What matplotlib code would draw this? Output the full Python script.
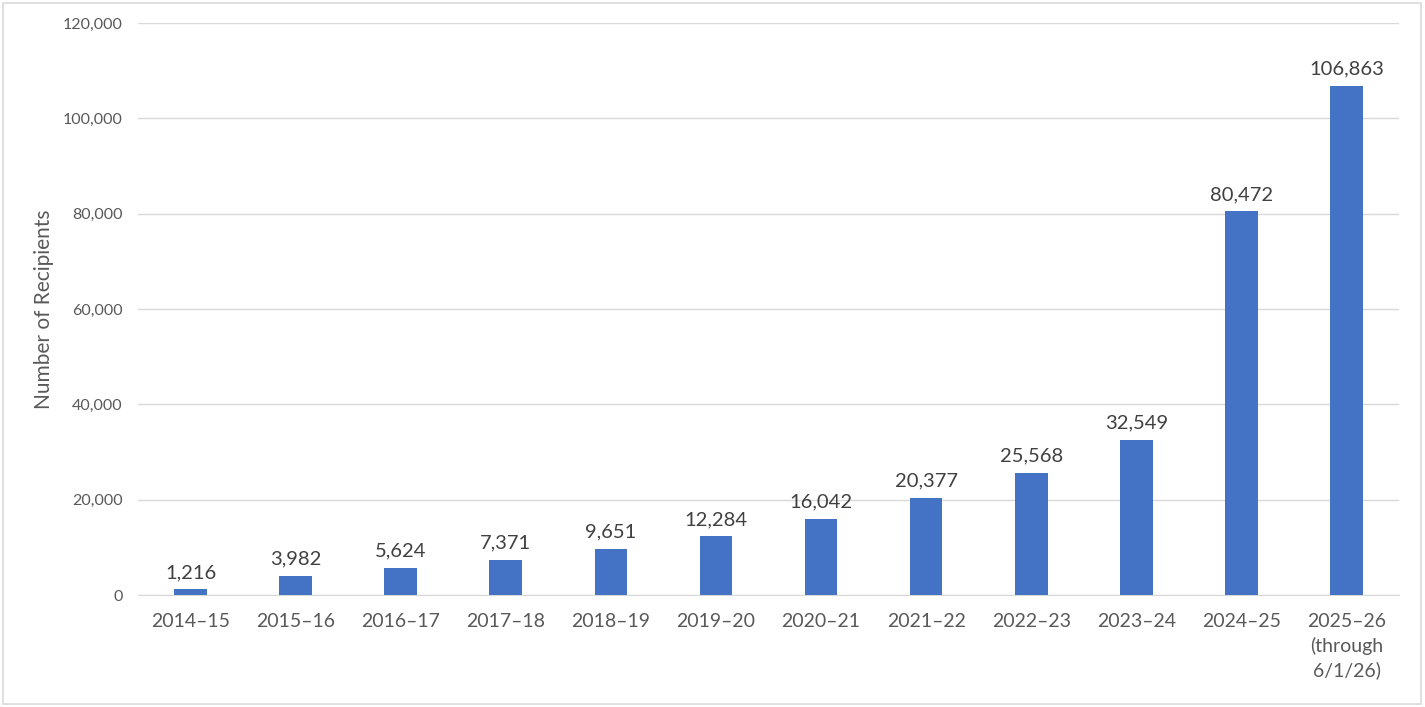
import matplotlib.pyplot as plt
from matplotlib.patches import Rectangle

years = ["2014\u201315", "2015\u201316", "2016\u201317", "2017\u201318", "2018\u201319",
         "2019\u201320", "2020\u201321", "2021\u201322", "2022\u201323", "2023\u201324",
         "2024\u201325", "2025\u201326\n(through\n6/1/26)"]
recipients = [1216, 3982, 5624, 7371, 9651, 12284, 16042, 20377, 25568, 32549, 80472, 106863]
yticks = [0, 20000, 40000, 60000, 80000, 100000, 120000]

plt.rcParams['font.family'] = ['Lato', 'DejaVu Sans']
text_color = "#595959"
grid_color = "#D9D9D9"

fig = plt.figure(figsize=(14.25, 7.07), dpi=100)
ax = fig.add_axes([0.0968, 0.1584, 0.8850, 0.8091])

x = range(len(years))
bars = ax.bar(x, recipients, width=0.31, color="#4472C4", zorder=3)

for xi, v in zip(x, recipients):
    ax.annotate(f"{v:,}", (xi, v), xytext=(0, 6), textcoords="offset points",
                ha="center", va="bottom", fontsize=14.5, color="#404040")

ax.set_xlim(-0.5, len(years) - 0.5)
ax.set_ylim(0, 120000)
ax.set_yticks(yticks)
ax.set_yticklabels([f"{t:,}" for t in yticks], fontsize=11.5, color=text_color)
ax.set_xticks(list(x))
ax.set_xticklabels(years, fontsize=14, color=text_color, va="top", linespacing=1.45)
ax.tick_params(axis="both", length=0)
ax.tick_params(axis="x", pad=13)
ax.tick_params(axis="y", pad=11)

ax.grid(axis="y", color=grid_color, linewidth=1, zorder=0)
for s in ["top", "right", "left"]:
    ax.spines[s].set_visible(False)
ax.spines["bottom"].set_color(grid_color)

ax.set_ylabel("Number of Recipients", fontsize=15, color=text_color, labelpad=6)

fig.patches.append(Rectangle((0.002, 0.004), 0.995, 0.992, transform=fig.transFigure,
                             fill=False, edgecolor="#D9D9D9", linewidth=1.2))

fig.savefig("out.png", dpi=100)
